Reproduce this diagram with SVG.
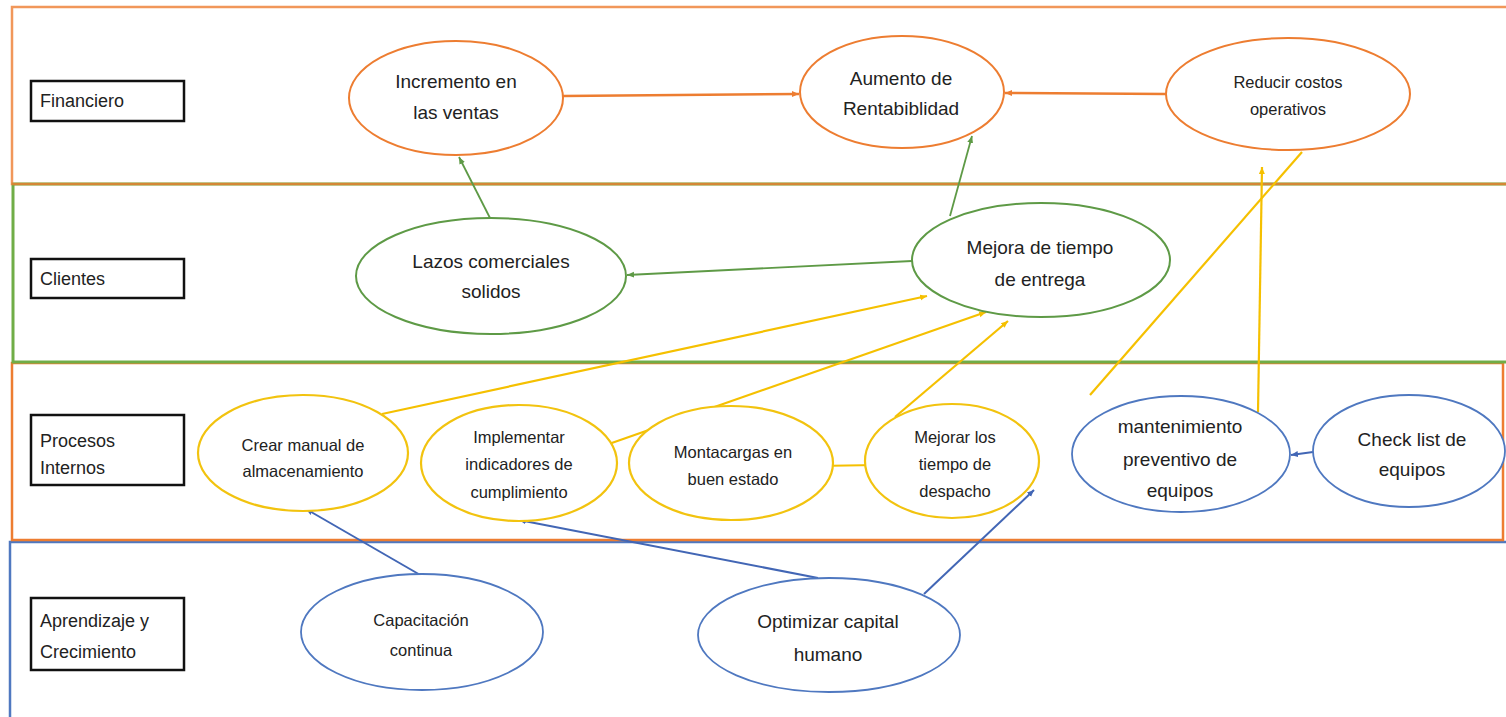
<svg xmlns="http://www.w3.org/2000/svg" width="1506" height="717" viewBox="0 0 1506 717">
<style>
text{font-family:"Liberation Sans",Arial,sans-serif;fill:#222;}
.t{font-size:19px;text-anchor:middle;}
.ts{font-size:16.5px;text-anchor:middle;}
.lb{font-size:18px;}
.box{fill:#fff;stroke:#111;stroke-width:2.5;}
.eo{fill:#fff;stroke:#ED7D31;stroke-width:2;}
.eg{fill:#fff;stroke:#5E9A46;stroke-width:2;}
.ey{fill:#fff;stroke:#F2C30F;stroke-width:2.2;}
.eb{fill:#fff;stroke:#4F78C0;stroke-width:1.8;}
.co{stroke:#ED7D31;stroke-width:2.5;fill:none;}
.cg{stroke:#5E9A46;stroke-width:1.8;fill:none;}
.cy{stroke:#F5C000;stroke-width:2.2;fill:none;}
.cb{stroke:#4266B5;stroke-width:2;fill:none;}
</style>
<defs>
<marker id="ao" markerWidth="8" markerHeight="8" refX="7" refY="4" orient="auto" markerUnits="userSpaceOnUse"><path d="M0,1 L7,4 L0,7 Z" fill="#ED7D31"/></marker>
<marker id="ag" markerWidth="8" markerHeight="8" refX="7" refY="4" orient="auto" markerUnits="userSpaceOnUse"><path d="M0,1 L7,4 L0,7 Z" fill="#5E9A46"/></marker>
<marker id="ay" markerWidth="8" markerHeight="8" refX="7" refY="4" orient="auto" markerUnits="userSpaceOnUse"><path d="M0,1 L7,4 L0,7 Z" fill="#F5C000"/></marker>
<marker id="ab" markerWidth="8" markerHeight="8" refX="7" refY="4" orient="auto" markerUnits="userSpaceOnUse"><path d="M0,1 L7,4 L0,7 Z" fill="#4266B5"/></marker>
</defs>
<rect width="1506" height="717" fill="#fff"/>
<g id="bands">
<rect x="10" y="542" width="1520" height="200" fill="none" stroke="#4F78C0" stroke-width="2.5"/>
<rect x="12" y="363" width="1491" height="177" fill="none" stroke="#ED7D31" stroke-width="2.5"/>
<rect x="13" y="184" width="1520" height="178" fill="none" stroke="#70AD47" stroke-width="3"/>
<rect x="12" y="7" width="1520" height="177" fill="none" stroke="#ED7D31" stroke-width="2.5" stroke-opacity="0.8"/>
</g>
<g id="labels">
<g id="lbl-financiero"><rect class="box" x="31" y="81" width="153" height="40"/><text class="lb" x="40" y="107">Financiero</text></g>
<g id="lbl-clientes"><rect class="box" x="31" y="259" width="153" height="39"/><text class="lb" x="40" y="285">Clientes</text></g>
<g id="lbl-procesos"><rect class="box" x="31" y="415" width="153" height="70"/><text class="lb" x="40" y="447">Procesos</text><text class="lb" x="40" y="474">Internos</text></g>
<g id="lbl-aprendizaje"><rect class="box" x="31" y="598" width="153" height="72"/><text class="lb" x="40" y="627">Aprendizaje y</text><text class="lb" x="40" y="658">Crecimiento</text></g>
</g>
<g id="connectors">
<line class="co" x1="563" y1="96" x2="799" y2="94" marker-end="url(#ao)"/>
<line class="co" x1="1166" y1="94" x2="1005" y2="93" marker-end="url(#ao)"/>
<line class="cg" x1="490" y1="218" x2="459" y2="157" marker-end="url(#ag)"/>
<line class="cg" x1="950" y1="216" x2="972" y2="136" marker-end="url(#ag)"/>
<line class="cg" x1="912" y1="261" x2="627" y2="275" marker-end="url(#ag)"/>
<line class="cy" x1="382" y1="414" x2="927" y2="296" marker-end="url(#ay)"/>
<line class="cy" x1="606" y1="445" x2="986" y2="312" marker-end="url(#ay)"/>
<line class="cy" x1="895" y1="417" x2="1008" y2="321" marker-end="url(#ay)"/>
<line class="cy" x1="816" y1="466" x2="877" y2="465" marker-end="url(#ay)"/>
<line class="cy" x1="1258" y1="412" x2="1262" y2="167" marker-end="url(#ay)"/>
<line class="cy" x1="1090" y1="395" x2="1302" y2="152"/>
<line class="cb" x1="422" y1="576" x2="306" y2="509" marker-end="url(#ab)"/>
<line class="cb" x1="818" y1="578" x2="519" y2="520" marker-end="url(#ab)"/>
<line class="cb" x1="924" y1="594" x2="1034" y2="490" marker-end="url(#ab)"/>
<line class="cb" x1="1313" y1="452" x2="1291" y2="455" marker-end="url(#ab)"/>
</g>
<g id="n-incremento"><ellipse class="eo" cx="456" cy="98" rx="107" ry="57"/><text class="t" x="456" y="88">Incremento en</text><text class="t" x="456" y="119">las ventas</text></g>
<g id="n-aumento"><ellipse class="eo" cx="902" cy="92" rx="102" ry="56"/><text class="t" x="901" y="85">Aumento de</text><text class="t" x="901" y="115">Rentabiblidad</text></g>
<g id="n-reducir"><ellipse class="eo" cx="1288" cy="94" rx="122" ry="56"/><text class="ts" x="1288" y="88">Reducir costos</text><text class="ts" x="1288" y="115">operativos</text></g>
<g id="n-lazos"><ellipse class="eg" cx="491" cy="276" rx="135" ry="58"/><text class="t" x="491" y="268">Lazos comerciales</text><text class="t" x="491" y="298">solidos</text></g>
<g id="n-mejora"><ellipse class="eg" cx="1041" cy="260" rx="129" ry="57"/><text class="t" x="1040" y="254">Mejora de tiempo</text><text class="t" x="1040" y="286">de entrega</text></g>
<g id="n-crear"><ellipse class="ey" cx="303" cy="453" rx="105" ry="58"/><text class="ts" x="303" y="451">Crear manual de</text><text class="ts" x="303" y="477">almacenamiento</text></g>
<g id="n-implementar"><ellipse class="ey" cx="519" cy="463" rx="98" ry="58"/><text class="ts" x="519" y="443">Implementar</text><text class="ts" x="519" y="470">indicadores de</text><text class="ts" x="519" y="498">cumplimiento</text></g>
<g id="n-montacargas"><ellipse class="ey" cx="731" cy="463" rx="102" ry="57"/><text class="ts" x="733" y="458">Montacargas en</text><text class="ts" x="733" y="485">buen estado</text></g>
<g id="n-mejorar"><ellipse class="ey" cx="952" cy="461" rx="87" ry="57"/><text class="ts" x="955" y="443">Mejorar los</text><text class="ts" x="955" y="470">tiempo de</text><text class="ts" x="955" y="497">despacho</text></g>
<g id="n-mantenimiento"><ellipse class="eb" cx="1181" cy="454" rx="109" ry="58"/><text class="t" x="1180" y="433">mantenimiento</text><text class="t" x="1180" y="466">preventivo de</text><text class="t" x="1180" y="497">equipos</text></g>
<g id="n-checklist"><ellipse class="eb" cx="1409" cy="451" rx="96" ry="56"/><text class="t" x="1412" y="446">Check list de</text><text class="t" x="1412" y="476">equipos</text></g>
<g id="n-capacitacion"><ellipse class="eb" cx="422" cy="632" rx="121" ry="58"/><text class="ts" x="421" y="626">Capacitación</text><text class="ts" x="421" y="656">continua</text></g>
<g id="n-optimizar"><ellipse class="eb" cx="829" cy="635" rx="131" ry="57"/><text class="t" x="828" y="628">Optimizar capital</text><text class="t" x="828" y="661">humano</text></g>
</svg>
